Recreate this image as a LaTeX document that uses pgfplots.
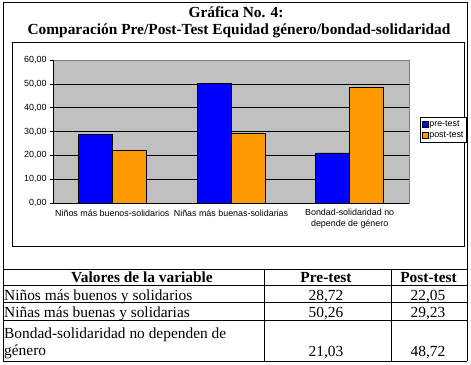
\documentclass[border=0pt]{standalone}
\usepackage{pgfplots}
\pgfplotsset{compat=1.18}
\usepackage{fontspec}
\setmainfont{Liberation Serif}
\newfontfamily\arial{Liberation Sans}
\definecolor{preblue}{HTML}{0000FF}
\definecolor{postorange}{HTML}{FF9900}
\definecolor{plotgray}{HTML}{C0C0C0}
\definecolor{bordergray}{HTML}{808080}
\newcommand{\chartfont}{\arial\fontsize{8.9}{10.5}\selectfont}
\newcommand{\tabfont}{\fontsize{15.4}{18}\selectfont}
\pgfplotsset{sqlegend/.style={legend image code/.code={\draw[##1, line width=0.5pt] (0pt,-3pt) rectangle (6pt,3pt);}}}

\begin{document}
\begin{tikzpicture}[x=1pt,y=1pt]
\path (0,0) rectangle (471,-364);
% marco exterior
\draw[line width=0.8pt] (3,-361) -- (3,-2) -- (467,-2) -- (467,-361);
% titulo
\node[font=\tabfont\bfseries, anchor=base, inner sep=0] at (236,-17) {Gráfica No. 4:};
\node[font=\tabfont\bfseries, anchor=base, inner sep=0] at (239,-34) {Comparación Pre/Post-Test Equidad género/bondad-solidaridad};
% marco del grafico
\draw[line width=0.8pt] (12,-42) rectangle (464,-246);

\begin{axis}[
    at={(53pt,-203pt)}, anchor=south west,
    scale only axis, width=356pt, height=143pt,
    xmin=0.5, xmax=3.5, ymin=0, ymax=60,
    ybar=0pt, bar width=0.2865,
    axis background/.style={fill=plotgray, draw=bordergray},
    axis x line*=bottom, axis y line*=left,
    axis line style={black, line width=0.6pt, -},
    tick align=outside,
    major tick length=3pt, minor tick length=3pt,
    ytick={0,10,...,60},
    ytick style={black, line width=0.6pt},
    extra y ticks={10,20,30,40,50},
    extra y tick labels={},
    extra y tick style={grid=major, major grid style={black, line width=0.6pt}, tick style={draw=none}},
    xtick={1,2,3},
    xticklabels={Niños más buenos-solidarios, Niñas más buenas-solidarias, {Bondad-solidaridad no\\depende de género}},
    xtick style={draw=none},
    minor xtick={0.5,1.5,2.5,3.5},
    minor x tick style={black, line width=0.6pt},
    x tick label style={font=\chartfont, align=center},
    y tick label style={font=\chartfont},
    /pgf/number format/.cd, fixed, fixed zerofill, precision=2, use comma, assume math mode=true,
    /pgfplots/.cd,
    legend style={at={(1.031,0.601)}, anchor=north west, draw=black, fill=white,
        font=\chartfont, inner sep=1.5pt, row sep=1.5pt, line width=0.6pt,
        nodes={inner xsep=1pt, inner ysep=1.5pt}},
    legend cell align=left,
]
\addplot[fill=preblue, draw=black, line width=0.6pt, sqlegend] coordinates {
    (1,28.72) (2,50.26) (3,21.03)
};
\addplot[fill=postorange, draw=black, line width=0.6pt, sqlegend] coordinates {
    (1,22.05) (2,29.23) (3,48.72)
};
\legend{pre-test, post-test}
\end{axis}

% tabla
\foreach \y in {269,285,302.5,320.5,361} \draw[line width=0.8pt] (3,-\y) -- (467,-\y);
\foreach \x in {264,391} \draw[line width=0.8pt] (\x,-269) -- (\x,-361);
\begin{scope}[every node/.style={inner sep=0, font=\tabfont}]
\node[anchor=base, font=\tabfont\bfseries] at (142,-282.3) {Valores de la variable};
\node[anchor=base, font=\tabfont\bfseries] at (326,-282.3) {Pre-test};
\node[anchor=base, font=\tabfont\bfseries] at (428.5,-282.3) {Post-test};
\node[anchor=base west] at (4,-300) {Niños más buenos y solidarios};
\node[anchor=base] at (326,-300) {28,72};
\node[anchor=base] at (428,-300) {22,05};
\node[anchor=base west] at (4,-317.7) {Niñas más buenas y solidarias};
\node[anchor=base] at (326,-317.7) {50,26};
\node[anchor=base] at (428,-317.7) {29,23};
\node[anchor=base west] at (4,-338.3) {Bondad-solidaridad no dependen de};
\node[anchor=base west] at (4,-355) {género};
\node[anchor=base] at (326,-356.5) {21,03};
\node[anchor=base] at (428,-356.5) {48,72};
\end{scope}
\end{tikzpicture}
\end{document}
